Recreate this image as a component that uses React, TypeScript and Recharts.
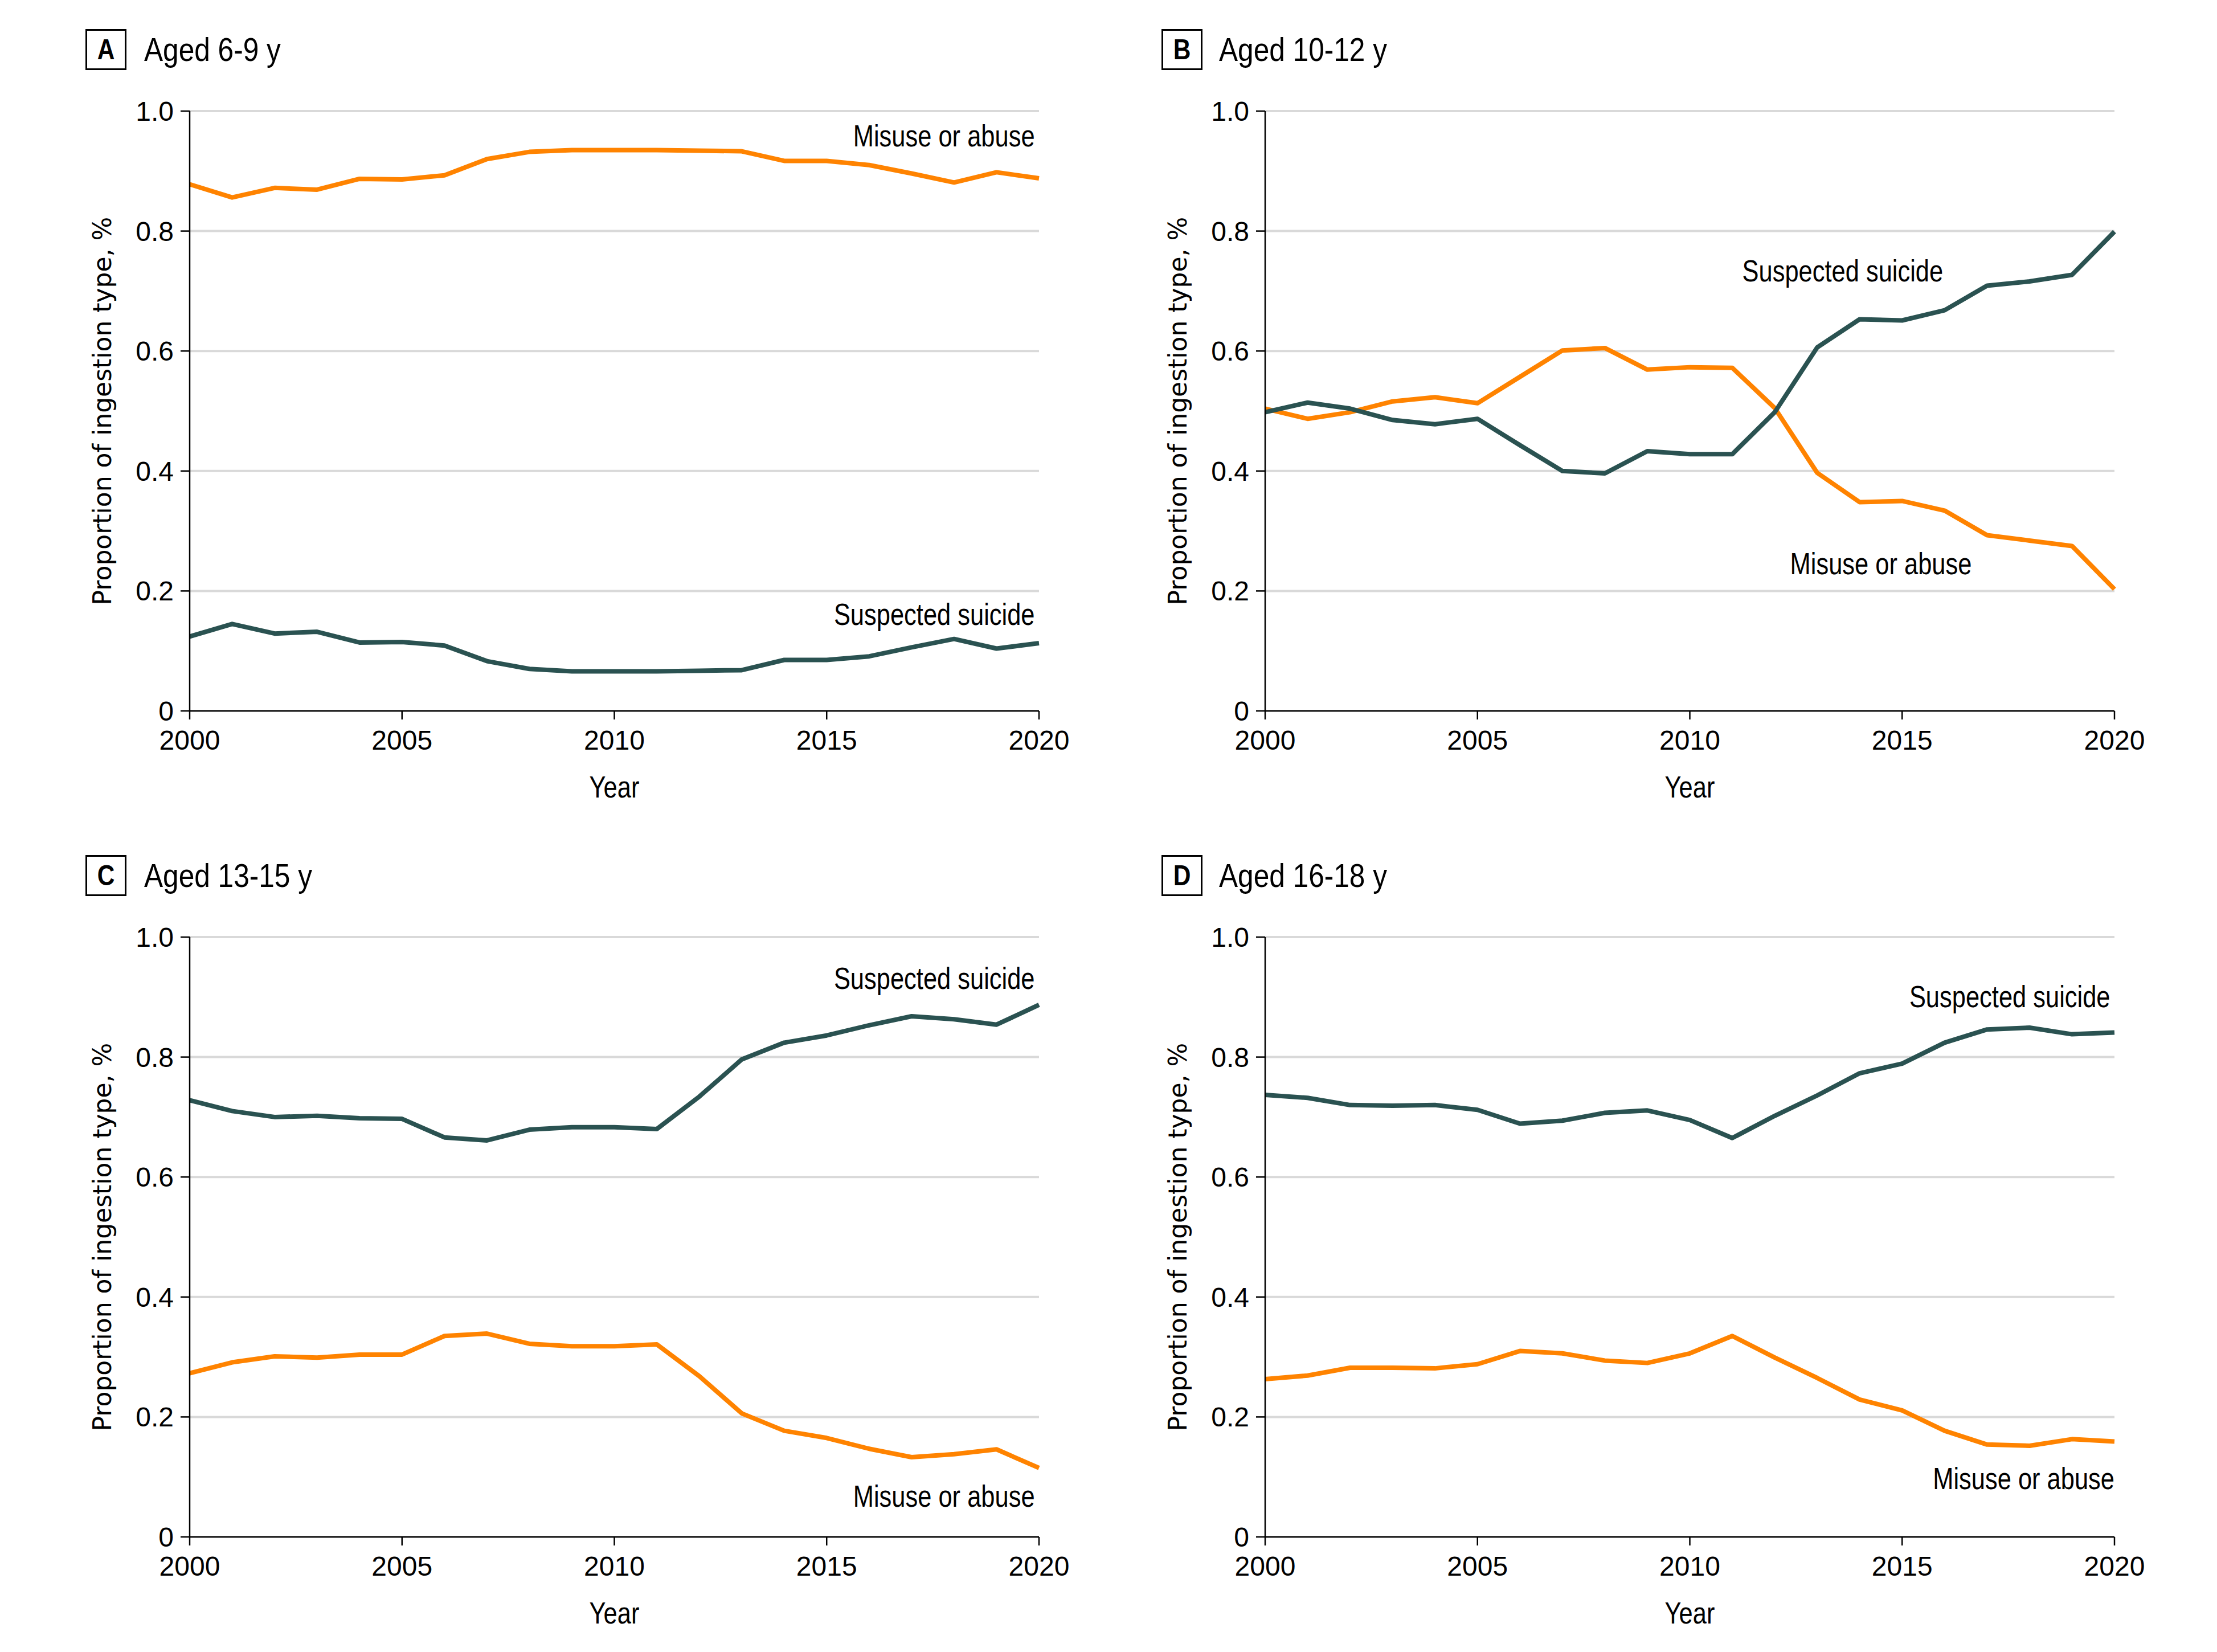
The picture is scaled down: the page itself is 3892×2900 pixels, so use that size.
import React from "react";
import {
  LineChart,
  Line,
  XAxis,
  YAxis,
  CartesianGrid,
  ReferenceDot,
} from "recharts";

const years = [
  2000, 2001, 2002, 2003, 2004, 2005, 2006, 2007, 2008, 2009, 2010, 2011, 2012,
  2013, 2014, 2015, 2016, 2017, 2018, 2019, 2020,
];

const xTicks = [2000, 2005, 2010, 2015, 2020];
const yTicks = [0, 0.2, 0.4, 0.6, 0.8, 1.0];

// Panel A, aged 6-9 y
const misuseA = [
  0.878, 0.856, 0.872, 0.869, 0.887, 0.886, 0.893, 0.92, 0.932, 0.935, 0.935,
  0.935, 0.934, 0.933, 0.917, 0.917, 0.91, 0.896, 0.881, 0.898, 0.888,
];
const suicideA = [
  0.124, 0.145, 0.129, 0.132, 0.114, 0.115, 0.109, 0.083, 0.07, 0.066, 0.066,
  0.066, 0.067, 0.068, 0.085, 0.085, 0.091, 0.106, 0.12, 0.104, 0.113,
];

// Panel B, aged 10-12 y
const misuseB = [
  0.504, 0.487, 0.498, 0.516, 0.523, 0.513, 0.557, 0.601, 0.605, 0.569, 0.573,
  0.572, 0.505, 0.397, 0.348, 0.35, 0.334, 0.293, 0.284, 0.275, 0.203,
];
const suicideB = [
  0.498, 0.514, 0.504, 0.485, 0.478, 0.487, 0.443, 0.4, 0.396, 0.433, 0.428,
  0.428, 0.498, 0.606, 0.653, 0.651, 0.668, 0.709, 0.716, 0.727, 0.799,
];

// Panel C, aged 13-15 y
const misuseC = [
  0.273, 0.291, 0.301, 0.299, 0.304, 0.304, 0.335, 0.339, 0.322, 0.318, 0.318,
  0.321, 0.268, 0.206, 0.177, 0.165, 0.147, 0.133, 0.138, 0.146, 0.115,
];
const suicideC = [
  0.728, 0.71, 0.7, 0.702, 0.698, 0.697, 0.666, 0.661, 0.679, 0.683, 0.683,
  0.68, 0.734, 0.796, 0.824, 0.836, 0.853, 0.868, 0.863, 0.854, 0.887,
];

// Panel D, aged 16-18 y
const misuseD = [
  0.263, 0.269, 0.282, 0.282, 0.281, 0.288, 0.31, 0.306, 0.294, 0.29, 0.306,
  0.335, 0.299, 0.265, 0.229, 0.211, 0.177, 0.154, 0.152, 0.163, 0.159,
];
const suicideD = [
  0.737, 0.732, 0.72, 0.719, 0.72, 0.712, 0.689, 0.694, 0.707, 0.711, 0.695,
  0.665, 0.702, 0.736, 0.773, 0.789, 0.824, 0.846, 0.849, 0.838, 0.841,
];

const ORANGE = "#FF8300";
const TEAL = "#2A5251";
const SANS = '"Liberation Sans", Arial, sans-serif';
// the original uses a condensed face; squeeze Liberation Sans to match
const SQUEEZE = 0.82;

interface Note {
  text: string;
  x: number;
  y: number;
  anchor: "end" | "middle";
}

interface PanelDef {
  letter: string;
  title: string;
  misuse: number[];
  suicide: number[];
  notes: Note[];
  left: number;
  top: number;
  marginLeft: number;
  marginRight: number;
}

const panels: PanelDef[] = [
  {
    letter: "A",
    title: "Aged 6-9 y",
    misuse: misuseA,
    suicide: suicideA,
    notes: [
      { text: "Misuse or abuse", x: 2019.9, y: 0.959, anchor: "end" },
      { text: "Suspected suicide", x: 2019.9, y: 0.161, anchor: "end" },
    ],
    left: 0,
    top: 0,
    marginLeft: 213,
    marginRight: 122,
  },
  {
    letter: "B",
    title: "Aged 10-12 y",
    misuse: misuseB,
    suicide: suicideB,
    notes: [
      { text: "Suspected suicide", x: 2013.6, y: 0.734, anchor: "middle" },
      { text: "Misuse or abuse", x: 2014.5, y: 0.246, anchor: "middle" },
    ],
    left: 1946,
    top: 0,
    marginLeft: 155,
    marginRight: 180,
  },
  {
    letter: "C",
    title: "Aged 13-15 y",
    misuse: misuseC,
    suicide: suicideC,
    notes: [
      { text: "Suspected suicide", x: 2019.9, y: 0.932, anchor: "end" },
      { text: "Misuse or abuse", x: 2019.9, y: 0.068, anchor: "end" },
    ],
    left: 0,
    top: 1450,
    marginLeft: 213,
    marginRight: 122,
  },
  {
    letter: "D",
    title: "Aged 16-18 y",
    misuse: misuseD,
    suicide: suicideD,
    notes: [
      { text: "Suspected suicide", x: 2019.9, y: 0.901, anchor: "end" },
      { text: "Misuse or abuse", x: 2020, y: 0.098, anchor: "end" },
    ],
    left: 1946,
    top: 1450,
    marginLeft: 155,
    marginRight: 180,
  },
];

const YLabel = (props: any) => {
  const vb = props.viewBox || {};
  const axisX = vb.x + vb.width;
  const cx = axisX - 154;
  const cy = vb.y + vb.height / 2;
  return (
    <text
      x={cx}
      y={cy}
      transform={`rotate(-90 ${cx} ${cy})`}
      textAnchor="middle"
      dominantBaseline="central"
      fontFamily='"DejaVu Sans", Verdana, sans-serif'
      fontSize={44}
      fill="#000"
    >
      Proportion of ingestion type, %
    </text>
  );
};

const XLabel = (props: any) => {
  const vb = props.viewBox || {};
  const x = vb.x + vb.width / 2;
  const y = vb.y + 152;
  return (
    <text
      transform={`translate(${x} ${y}) scale(${SQUEEZE} 1)`}
      x={0}
      y={0}
      textAnchor="middle"
      fontFamily={SANS}
      fontSize={53}
      fill="#000"
    >
      Year
    </text>
  );
};

const NoteLabel = (props: any) => {
  const vb = props.viewBox || {};
  const x = vb.x;
  const y = vb.y + 19;
  return (
    <text
      transform={`translate(${x} ${y}) scale(${SQUEEZE} 1)`}
      x={0}
      y={0}
      textAnchor={props.anchor}
      fontFamily={SANS}
      fontSize={53}
      fill="#000"
    >
      {props.text}
    </text>
  );
};

function Panel({ p }: { p: PanelDef }) {
  const data = years.map((year, i) => ({
    year,
    misuse: p.misuse[i],
    suicide: p.suicide[i],
  }));
  return (
    <div
      style={{
        position: "absolute",
        left: p.left,
        top: p.top,
        width: 1946,
        height: 1450,
      }}
    >
      <div
        style={{
          position: "absolute",
          left: p.left === 0 ? 150 : 93,
          top: 51,
          width: 72,
          height: 72,
          boxSizing: "border-box",
          border: "3px solid #000",
          display: "flex",
          alignItems: "center",
          justifyContent: "center",
          fontFamily: SANS,
          fontWeight: "bold",
          fontSize: 50,
          lineHeight: 1,
        }}
      >
        <span style={{ display: "inline-block", transform: "scaleX(0.85)" }}>
          {p.letter}
        </span>
      </div>
      <div
        style={{
          position: "absolute",
          left: p.left === 0 ? 253 : 194,
          top: 51,
          height: 72,
          display: "flex",
          alignItems: "center",
          fontFamily: SANS,
          fontSize: 57,
          lineHeight: 1,
          whiteSpace: "nowrap",
          transform: "scaleX(0.87)",
          transformOrigin: "left center",
        }}
      >
        {p.title}
      </div>
      <div style={{ position: "absolute", left: 0, top: 0 }}>
        <LineChart
          width={1946}
          height={1450}
          data={data}
          margin={{
            top: 195,
            right: p.marginRight,
            bottom: 42,
            left: p.marginLeft,
          }}
        >
          <CartesianGrid
            horizontal={true}
            vertical={false}
            stroke="#d9d9d9"
            strokeWidth={4}
          />
          <XAxis
            dataKey="year"
            type="number"
            domain={[2000, 2020]}
            ticks={xTicks}
            height={160}
            tickSize={15}
            tickMargin={19}
            axisLine={{ stroke: "#000", strokeWidth: 2.5 }}
            tickLine={{ stroke: "#000", strokeWidth: 2.5 }}
            tick={{ fill: "#000", fontSize: 48, fontFamily: SANS }}
            label={<XLabel />}
          />
          <YAxis
            type="number"
            domain={[0, 1]}
            ticks={yTicks}
            width={120}
            tickSize={16}
            tickMargin={12}
            tickFormatter={(v: number) => (v === 0 ? "0" : v.toFixed(1))}
            axisLine={{ stroke: "#000", strokeWidth: 2.5 }}
            tickLine={{ stroke: "#000", strokeWidth: 2.5 }}
            tick={{ fill: "#000", fontSize: 48, fontFamily: SANS }}
            label={<YLabel />}
          />
          <Line
            type="linear"
            dataKey="misuse"
            stroke={ORANGE}
            strokeWidth={8}
            strokeLinejoin="round"
            dot={false}
            activeDot={false}
            isAnimationActive={false}
          />
          <Line
            type="linear"
            dataKey="suicide"
            stroke={TEAL}
            strokeWidth={8}
            strokeLinejoin="round"
            dot={false}
            activeDot={false}
            isAnimationActive={false}
          />
          {p.notes.map((n) => (
            <ReferenceDot
              key={n.text}
              x={n.x}
              y={n.y}
              r={0}
              fill="none"
              stroke="none"
              ifOverflow="visible"
              label={<NoteLabel text={n.text} anchor={n.anchor} />}
            />
          ))}
        </LineChart>
      </div>
    </div>
  );
}

export default function App() {
  return (
    <div
      style={{
        position: "absolute",
        left: 0,
        top: 0,
        width: 3892,
        height: 2900,
        background: "#fff",
      }}
    >
      {panels.map((p) => (
        <Panel key={p.letter} p={p} />
      ))}
    </div>
  );
}
